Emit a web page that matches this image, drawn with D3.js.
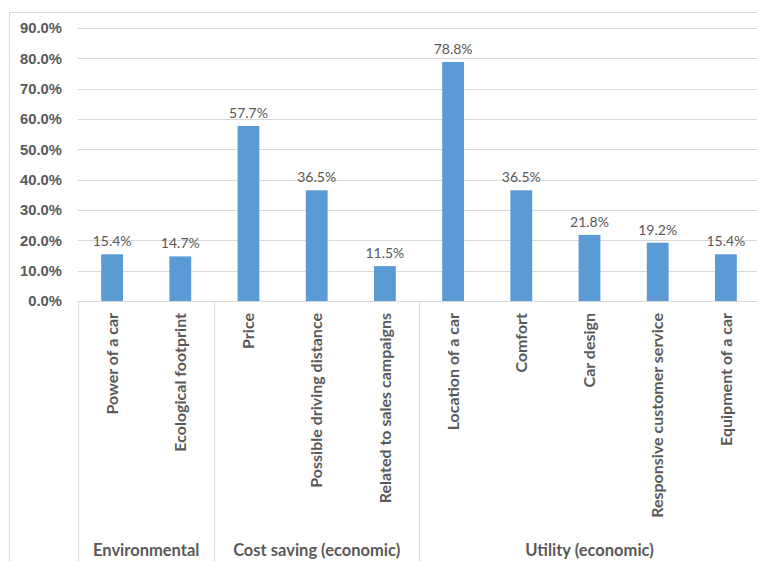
<!DOCTYPE html>
<html>
<head>
<meta charset="utf-8">
<script src="https://cdn.jsdelivr.net/npm/d3@7"></script>
<style>
  body { margin: 0; background: #fff; }
  svg { display: block; font-family: "Lato", "Liberation Sans", sans-serif; }
</style>
</head>
<body>
<script>
// data
var categories = ["Power of a car", "Ecological footprint", "Price", "Possible driving distance",
    "Related to sales campaigns", "Location of a car", "Comfort", "Car design",
    "Responsive customer service", "Equipment of a car"];
var values = [15.4, 14.7, 57.7, 36.5, 11.5, 78.8, 36.5, 21.8, 19.2, 15.4];
var groups = ["Environmental", "Cost saving (economic)", "Utility (economic)"];
var groupSizes = [2, 3, 5];
var yTicks = [0, 10, 20, 30, 40, 50, 60, 70, 80, 90];

var W = 757, H = 561;
var margin = { top: 28, left: 78, plotRight: 760, bottom: 301 };

var svg = d3.select("body").append("svg")
    .attr("width", W)
    .attr("height", H);

// chart border (right/bottom edges fall outside the picture)
svg.append("rect")
    .attr("x", 9.5).attr("y", 12.5)
    .attr("width", 800).attr("height", 600)
    .attr("fill", "none")
    .attr("stroke", "#d9d9d9");

var x = d3.scaleBand()
    .domain(categories)
    .range([margin.left, margin.plotRight])
    .paddingInner(0.68)
    .paddingOuter(0.34);

var y = d3.scaleLinear()
    .domain([0, 90])
    .range([margin.bottom, margin.top]);

// gridlines
svg.append("g")
    .selectAll("line")
    .data(yTicks)
    .join("line")
    .attr("x1", margin.left)
    .attr("x2", margin.plotRight)
    .attr("y1", function (d) { return Math.round(y(d)) + 0.5; })
    .attr("y2", function (d) { return Math.round(y(d)) + 0.5; })
    .attr("stroke", "#d9d9d9");

// y axis labels
var yAxis = svg.append("g")
    .attr("transform", "translate(" + margin.left + ",0)")
    .call(d3.axisLeft(y).tickValues(yTicks).tickSize(0).tickPadding(16)
        .tickFormat(function (d) { return d.toFixed(1) + "%"; }));
yAxis.select(".domain").remove();
yAxis.selectAll("text")
    .attr("fill", "#595959")
    .style("font-size", "14.8px")
    .style("font-weight", "bold");

// bars
svg.append("g")
    .selectAll("rect")
    .data(values)
    .join("rect")
    .attr("x", function (d, i) { return x(categories[i]); })
    .attr("y", function (d) { return y(d); })
    .attr("width", x.bandwidth())
    .attr("height", function (d) { return y(0) - y(d); })
    .attr("fill", "#5b9bd5");

// value labels
svg.append("g")
    .selectAll("text")
    .data(values)
    .join("text")
    .attr("x", function (d, i) { return x(categories[i]) + x.bandwidth() / 2; })
    .attr("y", function (d) { return y(d) - 8; })
    .attr("text-anchor", "middle")
    .attr("fill", "#595959")
    .style("font-size", "14px")
    .text(function (d) { return d.toFixed(1) + "%"; });

// category axis
svg.append("line")
    .attr("x1", margin.left).attr("x2", margin.plotRight)
    .attr("y1", margin.bottom + 0.5).attr("y2", margin.bottom + 0.5)
    .attr("stroke", "#d9d9d9");

var step = x.step();
var bounds = [0];
groupSizes.forEach(function (n, i) { bounds.push(bounds[i] + n); });

svg.append("g")
    .selectAll("line")
    .data(bounds)
    .join("line")
    .attr("x1", function (d) { return Math.round(margin.left + d * step) + 0.5; })
    .attr("x2", function (d) { return Math.round(margin.left + d * step) + 0.5; })
    .attr("y1", margin.bottom)
    .attr("y2", H)
    .attr("stroke", "#d9d9d9");

svg.append("g")
    .selectAll("text")
    .data(categories)
    .join("text")
    .attr("transform", function (d) {
        return "translate(" + (x(d) + x.bandwidth() / 2) + "," + (margin.bottom + 12) + ") rotate(-90)";
    })
    .attr("dy", "0.35em")
    .attr("text-anchor", "end")
    .attr("fill", "#595959")
    .style("font-size", "16px")
    .style("font-weight", "bold")
    .text(function (d) { return d; });

svg.append("g")
    .selectAll("text")
    .data(groups)
    .join("text")
    .attr("x", function (d, i) { return margin.left + (bounds[i] + bounds[i + 1]) / 2 * step; })
    .attr("y", 550)
    .attr("dy", "0.35em")
    .attr("text-anchor", "middle")
    .attr("fill", "#595959")
    .style("font-size", "16.5px")
    .style("font-weight", "bold")
    .text(function (d) { return d; });
</script>
</body>
</html>
